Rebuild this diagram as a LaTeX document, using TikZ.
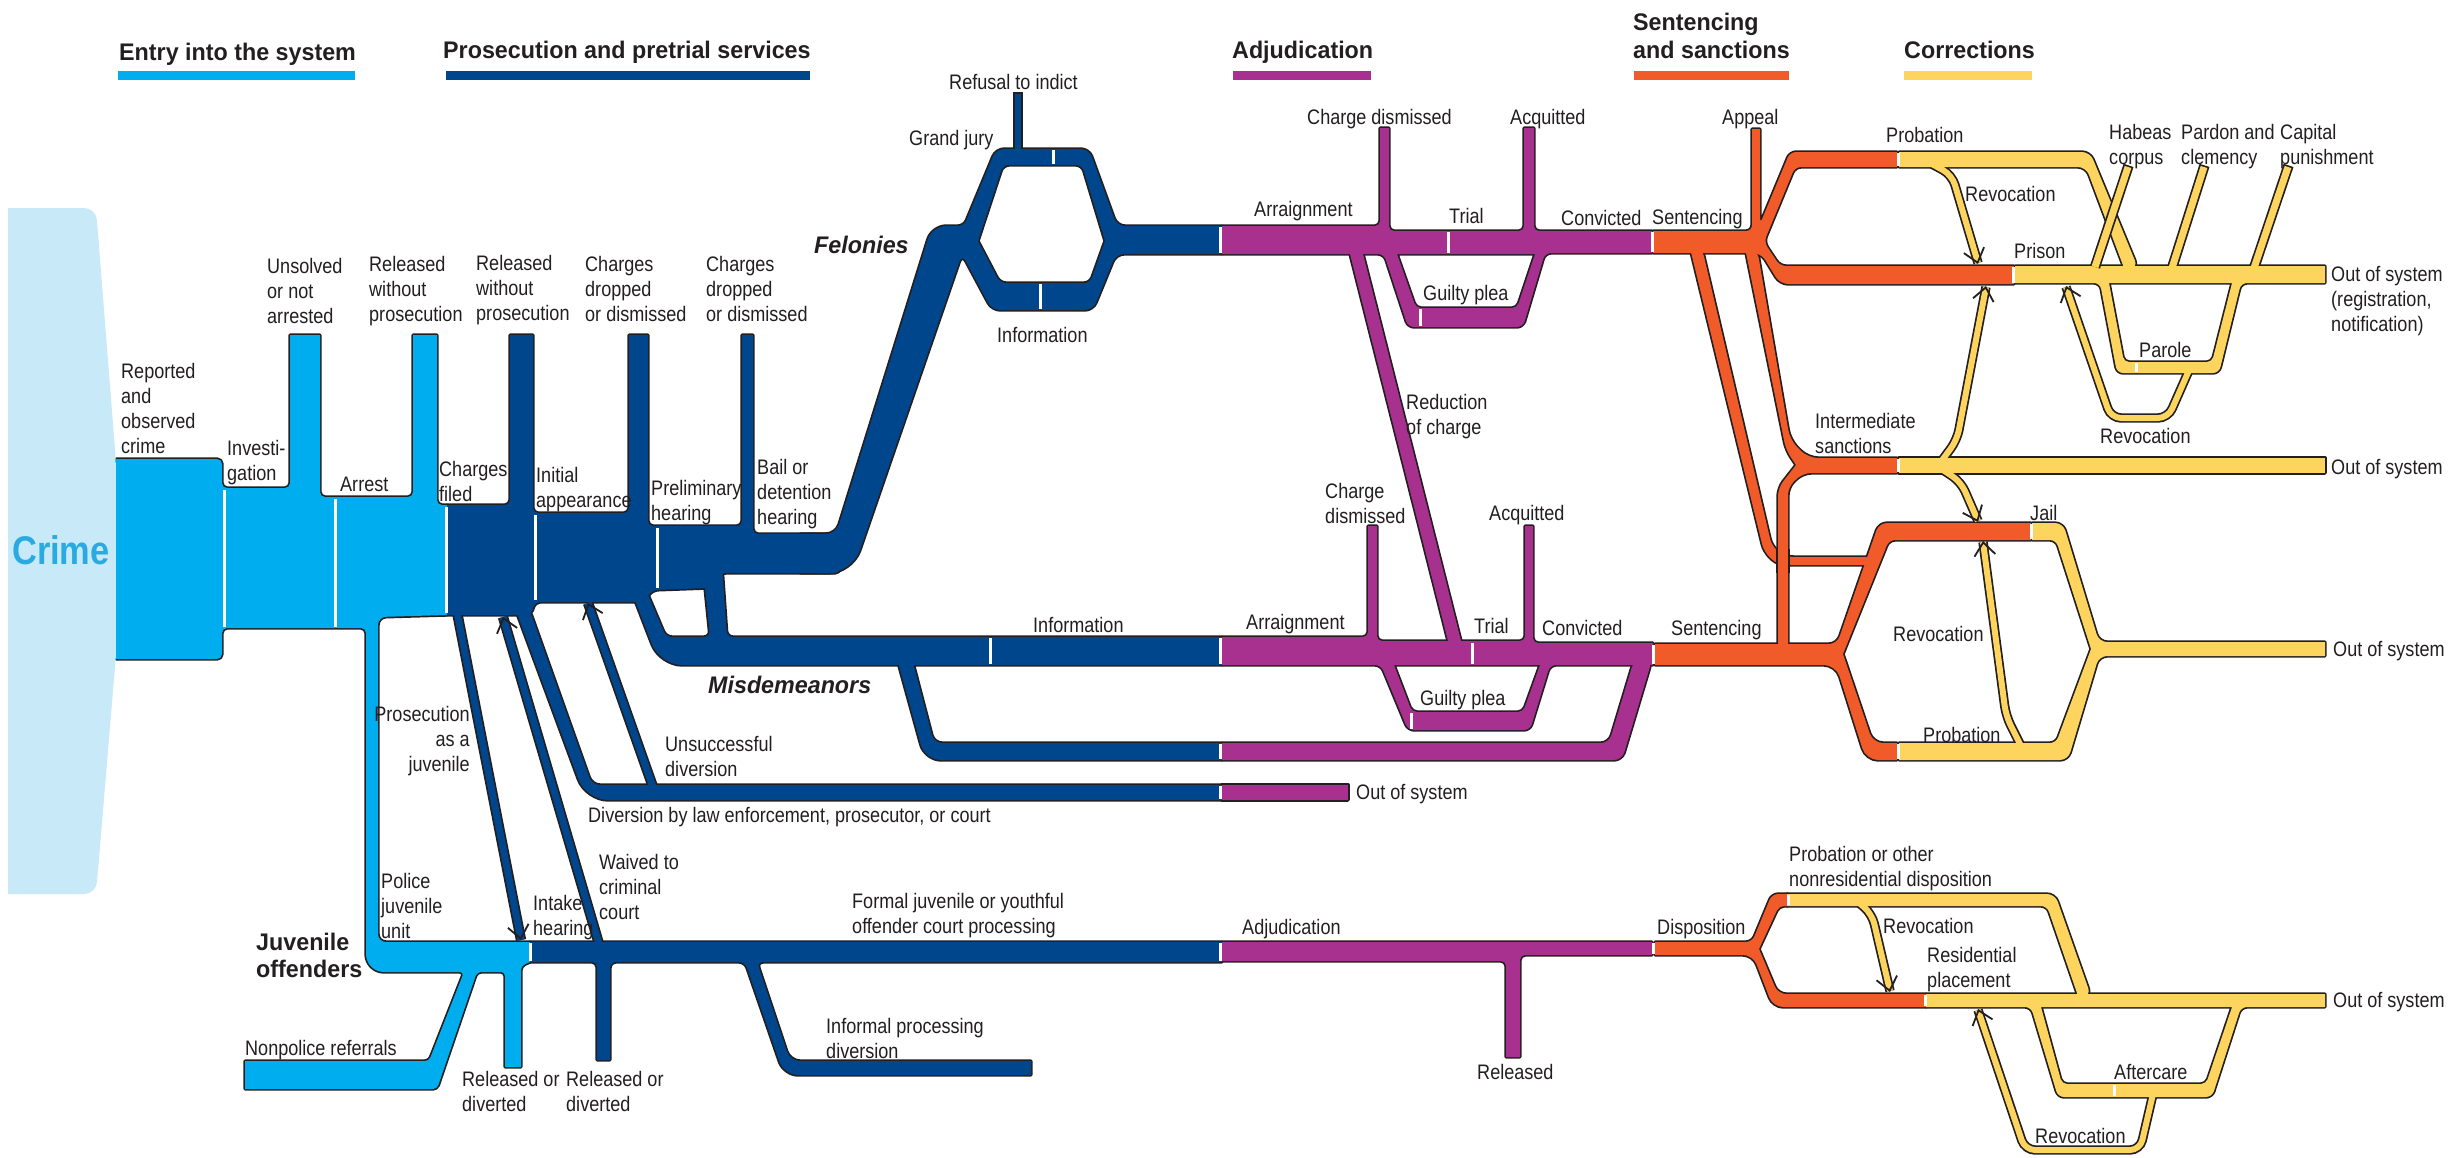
\documentclass[tikz,border=0pt]{standalone}
\usepackage{fontspec}
\setmainfont{Liberation Sans}[FakeStretch=0.86]
\newfontfamily\hfont{Liberation Sans}[FakeStretch=0.97]
\newfontfamily\cfont{Liberation Sans}[FakeStretch=0.86]
\usetikzlibrary{arrows.meta,calc}
\definecolor{crimebg}{HTML}{C8E9F8}
\definecolor{cyanE}{HTML}{00AEEF}
\definecolor{blueP}{HTML}{00468C}
\definecolor{purA}{HTML}{A8308F}
\definecolor{oraS}{HTML}{F15A29}
\definecolor{yelC}{HTML}{FDD55E}
\definecolor{crimetxt}{HTML}{29ABE2}
\definecolor{outl}{HTML}{231F20}
\definecolor{txt}{HTML}{231F20}
\begin{document}
\begin{tikzpicture}[x=1pt,y=-1pt,
  casing/.style={draw=outl, fill=outl, line width=3.4pt, line join=round},
  lbl/.style={font=\fontsize{21}{25}\selectfont, text=txt, inner sep=0pt, align=left, anchor=north west},
  hdr/.style={font=\hfont\bfseries\fontsize{24}{28}\selectfont, text=txt, inner sep=0pt, align=left, anchor=north west},
  wsep/.style={draw=white, line width=3pt},
  ahead/.style={draw=outl, line width=1.8pt, -{Straight Barb[length=13pt,width=21pt]}},
  tcasB/.style={draw=outl, line width=10.4pt},
  tfillB/.style={draw=blueP, line width=7pt},
  tcasY/.style={draw=outl, line width=9.4pt, rounded corners=10pt},
  tfillY/.style={draw=yelC, line width=6pt, rounded corners=10pt}]
\useasboundingbox (0,0) rectangle (2458,1157);
\fill[white] (0,0) rectangle (2458,1157);
% ---------- shapes ----------
\def\zzCrime{(8,208) [rounded corners=12pt] -- (96,208) -- (116,462) [sharp corners] -- (116,655) [rounded corners=12pt] -- (96,894) [sharp corners] -- (8,894) -- cycle}
\def\zzCyan{(116,459) [rounded corners=5pt] -- (222,459) -- (222,488) -- (290,488) [sharp corners] -- (290,335) -- (320,335) [rounded corners=5pt] -- (320,497) -- (413,497) [sharp corners] -- (413,335) -- (437,335) [rounded corners=5pt] -- (437,505) [sharp corners] -- (447,505) -- (447,615) [rounded corners=8pt] -- (378,617) -- (378,942) [sharp corners] -- (530,942) -- (530,962) [rounded corners=4pt] -- (521,966) [sharp corners] -- (521,1067) -- (505,1067) [rounded corners=4pt] -- (505,972) -- (477,972) -- (437,1089) [sharp corners] -- (245,1089) -- (245,1061) [rounded corners=4pt] -- (429,1061) -- (464,972) [rounded corners=18pt] -- (366,972) [rounded corners=5pt] -- (366,628) -- (222,628) -- (222,659) [sharp corners] -- (116,659) -- cycle}
\def\zzBlue{(447,505) [rounded corners=5pt] -- (510,505) [sharp corners] -- (510,335) -- (533,335) [rounded corners=5pt] -- (533,513) -- (629,513) [sharp corners] -- (629,335) -- (648,335) [rounded corners=5pt] -- (648,526) -- (742,526) [sharp corners] -- (742,335) -- (753,335) [rounded corners=5pt] -- (753,534) -- (840,534) -- (840,573) -- (721,573) -- (708,588) -- (653,590) -- (643,602) -- (535,602) -- (531,615) [sharp corners] -- (447,615) -- cycle}
\def\zzFel{(800,534) [rounded corners=10pt] -- (836,534) [rounded corners=14pt] -- (932,226) [rounded corners=6pt] -- (964,226) [rounded corners=8pt] -- (996,149) -- (1089,149) -- (1117,226) [sharp corners] -- (1222,226) -- (1222,254) [rounded corners=8pt] -- (1116,254) -- (1093,310) -- (992,310) -- (962,254) [rounded corners=24pt] -- (852,573) [sharp corners] -- (800,573) -- cycle
 (978,241) [rounded corners=6pt] -- (1003,165) -- (1082,165) [sharp corners] -- (1105,241) [rounded corners=6pt] -- (1090,283) -- (1000,283) [sharp corners] -- cycle}
\def\zzMis{(631,590) [rounded corners=6pt] -- (646,590) -- (666,637) -- (710,637) -- (703,568) -- (722,566) -- (727,637) [sharp corners] -- (1222,637) -- (1222,665) [rounded corners=22pt] -- (660,665) [sharp corners] -- cycle}
\def\zzMisLow{(896,655) [rounded corners=8pt] -- (911,655) -- (934,743) [sharp corners] -- (1222,743) -- (1222,760) [rounded corners=16pt] -- (925,760) [sharp corners] -- cycle}
\def\zzDiv{(515,608) [rounded corners=8pt] -- (529,608) -- (592,785) [sharp corners] -- (1222,785) -- (1222,800) [rounded corners=22pt] -- (586,800) [sharp corners] -- cycle}
\def\zzJB{(530,942) -- (1222,942) -- (1222,962) [rounded corners=6pt] -- (757,962) [rounded corners=10pt] -- (790,1061) [sharp corners] -- (1031,1061) -- (1031,1075) [rounded corners=14pt] -- (784,1075) [rounded corners=6pt] -- (745,962) -- (610,962) [sharp corners] -- (610,1060) -- (597,1060) [rounded corners=5pt] -- (597,962) [sharp corners] -- (530,962) -- cycle}
\def\zzPF{(1222,226) [rounded corners=5pt] -- (1380,226) [sharp corners] -- (1380,128) -- (1389,128) [rounded corners=5pt] -- (1389,231) -- (1524,231) [sharp corners] -- (1524,128) -- (1534,128) [rounded corners=5pt] -- (1534,231) [sharp corners] -- (1652,231) -- (1652,253) [rounded corners=6pt] -- (1545,253) -- (1523,327) -- (1408,327) -- (1384,254) [sharp corners] -- (1222,254) -- cycle
 (1397,254) [rounded corners=5pt] -- (1416,308) -- (1517,308) [sharp corners] -- (1535,254) -- cycle}
\def\zzRed{(1349,250) -- (1362,250) -- (1461,641) -- (1448,641) -- cycle}
\def\zzPM{(1222,637) [rounded corners=5pt] -- (1368,637) [sharp corners] -- (1368,526) -- (1377,526) [rounded corners=5pt] -- (1377,641) -- (1525,641) [sharp corners] -- (1525,526) -- (1533,526) [rounded corners=5pt] -- (1533,643) [sharp corners] -- (1653,643) -- (1653,665) [rounded corners=6pt] -- (1550,665) -- (1530,730) -- (1408,730) -- (1381,665) [sharp corners] -- (1222,665) -- cycle
 (1394,665) [rounded corners=5pt] -- (1412,712) -- (1523,712) [sharp corners] -- (1540,665) -- cycle}
\def\zzPML{(1222,743) [rounded corners=8pt] -- (1609,743) -- (1634,660) -- (1652,660) -- (1622,760) [sharp corners] -- (1222,760) -- cycle}
\def\zzPD{(1222,785) -- (1348,785) -- (1348,800) -- (1222,800) -- cycle}
\def\zzPJ{(1222,942) -- (1652,942) -- (1652,955) [rounded corners=5pt] -- (1520,955) [sharp corners] -- (1520,1057) -- (1506,1057) [rounded corners=5pt] -- (1506,961) [sharp corners] -- (1222,961) -- cycle}
\def\zzOF{(1653,231) [rounded corners=6pt] -- (1752,231) [sharp corners] -- (1752,129) -- (1760,129) [rounded corners=6pt] -- (1760,224) -- (1790,152) [sharp corners] -- (1897,152) -- (1897,167) [rounded corners=6pt] -- (1795,167) -- (1764,242) -- (1780,266) [sharp corners] -- (2014,266) -- (2014,284) [rounded corners=8pt] -- (1780,284) -- (1761,253) [sharp corners] -- (1653,253) -- cycle}
\def\zzOI{(1745,248) [rounded corners=10pt] -- (1757,248) -- (1790,440) -- (1808,458) [sharp corners] -- (1897,458) -- (1897,473) [rounded corners=8pt] -- (1803,473) -- (1788,487) [sharp corners] -- (1788,648) -- (1778,648) [rounded corners=8pt] -- (1778,488) [sharp corners] -- (1796,465) [rounded corners=8pt] -- (1786,450) [sharp corners] -- cycle}
\def\zzOJ{(1690,248) [rounded corners=8pt] -- (1702,248) -- (1772,547) -- (1786,557) [sharp corners] -- (1876,557) -- (1873,565) [rounded corners=8pt] -- (1778,565) -- (1764,552) [sharp corners] -- cycle}
\def\zzOM{(1655,644) [rounded corners=8pt] -- (1837,644) -- (1879,523) [sharp corners] -- (2031,523) -- (2031,540) [rounded corners=6pt] -- (1889,540) [sharp corners] -- (1843,654) [rounded corners=10pt] -- (1873,743) [sharp corners] -- (1897,743) -- (1897,760) [rounded corners=12pt] -- (1866,760) -- (1836,665) [sharp corners] -- (1655,665) -- cycle}
\def\zzOJuv{(1655,942) [rounded corners=6pt] -- (1752,942) -- (1772,894) [sharp corners] -- (1788,894) -- (1788,906) [rounded corners=5pt] -- (1779,906) [sharp corners] -- (1759,949) [rounded corners=8pt] -- (1778,994) [sharp corners] -- (1926,994) -- (1926,1007) [rounded corners=10pt] -- (1773,1007) -- (1753,955) [sharp corners] -- (1655,955) -- cycle}
\def\zzYP{(1899,152) [rounded corners=8pt] -- (2090,152) -- (2138,268) [sharp corners] -- (2124,268) [rounded corners=8pt] -- (2086,167) [sharp corners] -- (1899,167) -- cycle}
\def\zzYPr{(2015,266) -- (2325,266) -- (2325,283) [rounded corners=6pt] -- (2241,283) -- (2219,373) -- (2117,373) -- (2100,283) [sharp corners] -- (2015,283) -- cycle
 (2109,283) [rounded corners=5pt] -- (2124,362) -- (2212,362) [sharp corners] -- (2232,283) -- cycle}
\def\zzYI{(1899,458) -- (2325,458) -- (2325,473) -- (1899,473) -- cycle}
\def\zzYM{(2032,523) [rounded corners=8pt] -- (2063,523) -- (2099,642) [sharp corners] -- (2325,642) -- (2325,656) [rounded corners=8pt] -- (2099,656) -- (2068,760) [sharp corners] -- (1899,760) -- (1899,743) [rounded corners=6pt] -- (2056,743) [sharp corners] -- (2091,649) [rounded corners=6pt] -- (2056,540) [sharp corners] -- (2032,540) -- cycle}
\def\zzYJu{(1787,894) [rounded corners=8pt] -- (2055,894) -- (2091,996) [sharp corners] -- (2078,996) [rounded corners=6pt] -- (2047,906) [sharp corners] -- (1787,906) -- cycle}
\def\zzYJl{(1926,994) -- (2325,994) -- (2325,1007) [rounded corners=6pt] -- (2241,1007) -- (2212,1097) -- (2058,1097) -- (2031,1007) [sharp corners] -- (1926,1007) -- cycle
 (2041,1007) [rounded corners=5pt] -- (2062,1084) -- (2206,1084) [sharp corners] -- (2232,1007) -- cycle}
% thin lines
\def\zzRef{(1018,152) -- (1018,94)}
\def\zzAJ{(457,612) -- (521,940)}
\def\zzAW{(599,944) -- (503,617)}
\def\zzAU{(653,787) -- (588,603)}
\def\zzRP{(1930,163) -- (1952,175) -- (1978,263)}
\def\zzRIa{(1940,463) -- (1957,440) -- (1986,287)}
\def\zzRIb{(1940,468) -- (1961,482) -- (1978,521)}
\def\zzRPar{(2190,368) -- (2168,418) -- (2111,418) -- (2066,287)}
\def\zzRM{(2022,748) -- (2006,716) -- (1983,542)}
\def\zzRJa{(1858,902) -- (1872,914) -- (1890,991)}
\def\zzRJb{(2153,1094) -- (2140,1150) -- (2025,1150) -- (1978,1010)}
\def\zzPar{(2172,268) -- (2204,167)}
\def\zzCap{(2254,268) -- (2288,167)}
\def\zzHab{(2095,267) -- (2128,167)}
% ---------- pass 1: casings ----------
\path[casing] \zzCyan;
\path[casing] \zzBlue;
\path[casing, even odd rule] \zzFel;
\path[casing] \zzMis;
\path[casing] \zzMisLow;
\path[casing] \zzDiv;
\path[casing] \zzJB;
\path[casing, even odd rule] \zzPF;
\path[casing] \zzRed;
\path[casing, even odd rule] \zzPM;
\path[casing] \zzPML;
\path[casing] \zzPD;
\path[casing] \zzPJ;
\path[casing] \zzOF;
\path[casing] \zzOI;
\path[casing] \zzOJ;
\path[casing] \zzOM;
\path[casing] \zzOJuv;
\path[casing] \zzYP;
\path[casing, even odd rule] \zzYPr;
\path[casing] \zzYI;
\path[casing] \zzYM;
\path[casing] \zzYJu;
\path[casing, even odd rule] \zzYJl;
\draw[outl, line width=9.4pt, shorten >=-1.7pt] \zzRef;
\draw[tcasB] \zzAJ; \draw[tcasB] \zzAW; \draw[tcasB] \zzAU;
\draw[tcasY] \zzRP; \draw[tcasY] \zzRIa; \draw[tcasY] \zzRIb; \draw[tcasY] \zzRPar;
\draw[tcasY] \zzRM; \draw[tcasY] \zzRJa; \draw[tcasY] \zzRJb;
\draw[outl, line width=10.4pt, shorten >=-1.7pt] \zzPar;
\draw[outl, line width=10.4pt, shorten >=-1.7pt] \zzCap;
% ---------- crime box ----------
\fill[crimebg] \zzCrime;
% ---------- pass 2: fills ----------
\fill[cyanE] \zzCyan;
\fill[blueP] \zzBlue;
\fill[blueP, even odd rule] \zzFel;
\fill[blueP] \zzMis;
\fill[blueP] \zzMisLow;
\fill[blueP] \zzDiv;
\fill[blueP] \zzJB;
\fill[purA, even odd rule] \zzPF;
\fill[purA] \zzRed;
\fill[purA, even odd rule] \zzPM;
\fill[purA] \zzPML;
\fill[purA] \zzPD;
\fill[purA] \zzPJ;
\fill[oraS] \zzOF;
\fill[oraS] \zzOI;
\fill[oraS] \zzOJ;
\fill[oraS] \zzOM;
\fill[oraS] \zzOJuv;
\fill[yelC] \zzYP;
\fill[yelC, even odd rule] \zzYPr;
\fill[yelC] \zzYI;
\fill[yelC] \zzYM;
\fill[yelC] \zzYJu;
\fill[yelC, even odd rule] \zzYJl;
\draw[blueP, line width=6pt] \zzRef;
\draw[tfillB] \zzAJ; \draw[tfillB] \zzAW; \draw[tfillB] \zzAU;
\draw[tfillY] \zzRP; \draw[tfillY] \zzRIa; \draw[tfillY] \zzRIb; \draw[tfillY] \zzRPar;
\draw[tfillY] \zzRM; \draw[tfillY] \zzRJa; \draw[tfillY] \zzRJb;
\draw[yelC, line width=7pt] \zzPar;
\draw[yelC, line width=7pt] \zzCap;
% ---------- crossings ----------
\fill[oraS] (1778,549) rectangle (1788,573);
\draw[outl, line width=1.7pt] (1777.15,549) -- (1777.15,573) (1788.85,549) -- (1788.85,573);
\draw[outl, line width=10.4pt, shorten >=-1.7pt] \zzHab;
\draw[yelC, line width=7pt] \zzHab;
% ---------- separators ----------
\foreach \sx/\sa/\sb in {224/490/627, 335/499/627, 446/507/613, 535/515/600, 657/528/588,
  1053/150/164, 1040/284/309, 1220/227/253, 990/638/664, 1220/638/664, 1220/744/759,
  1220/786/799, 1220/943/961, 530/943/961, 1448/232/253, 1420/309/326, 1472/643/664,
  1411/713/729, 1652/232/252, 1653/645/664, 1653/943/954, 1898/153/166, 2013/267/283,
  1898/459/472, 2031/524/539, 1898/744/759, 1788/895/905, 1925/995/1006, 2136/363/372, 2114/1085/1096}
  {\draw[wsep] (\sx,\sa) -- (\sx,\sb);}
% ---------- arrowheads ----------
\draw[ahead] ($(521,940)!3pt!(457,612)$) -- (521,940);
\draw[ahead] ($(503,617)!3pt!(599,944)$) -- (503,617);
\draw[ahead] ($(588,603)!3pt!(653,787)$) -- (588,603);
\draw[ahead] ($(1978,264)!3pt!(1952,175)$) -- (1978,264);
\draw[ahead] ($(1986,286)!3pt!(1957,440)$) -- (1986,286);
\draw[ahead] ($(1978,522)!3pt!(1961,482)$) -- (1978,522);
\draw[ahead] ($(2066,286)!3pt!(2111,418)$) -- (2066,286);
\draw[ahead] ($(1983,541)!3pt!(2006,716)$) -- (1983,541);
\draw[ahead] ($(1890,992)!3pt!(1872,914)$) -- (1890,992);
\draw[ahead] ($(1978,1009)!3pt!(2025,1150)$) -- (1978,1009);
% ---------- header bars ----------
\fill[cyanE] (118,71) rectangle (355,80);
\fill[blueP] (446,71) rectangle (810,80);
\fill[purA] (1233,71) rectangle (1371,80);
\fill[oraS] (1634,71) rectangle (1789,80);
\fill[yelC] (1904,71) rectangle (2032,80);
\node[hdr] (h1) at (119,43) {Entry into the system};
\node[hdr] (h2) at (443,41) {Prosecution and pretrial services};
\node[hdr] (h3) at (1232,41) {Adjudication};
\node[hdr] (h4) at (1633,13) {Sentencing\\and sanctions};
\node[hdr] (h5) at (1904,41) {Corrections};
% ---------- big labels ----------
\node[anchor=west, inner sep=0pt, text=crimetxt, font=\cfont\bfseries\fontsize{40}{44}\selectfont] (crime) at (12,550) {Crime};
\node[hdr, font=\hfont\bfseries\itshape\fontsize{24}{28}\selectfont] (fel) at (814,236) {Felonies};
\node[hdr, font=\hfont\bfseries\itshape\fontsize{24}{28}\selectfont] (mis) at (708,676) {Misdemeanors};
\node[hdr, font=\hfont\bfseries\fontsize{24}{27}\selectfont] (juv) at (256,933) {Juvenile\\offenders};
% ---------- labels ----------
\node[lbl] (n1) at (121,363) {Reported\\and\\observed\\crime};
\node[lbl] (n2) at (227,440) {Investi-\\gation};
\node[lbl] (n3) at (267,258) {Unsolved\\or not\\arrested};
\node[lbl] (n4) at (340,477) {Arrest};
\node[lbl] (n5) at (369,256) {Released\\without\\prosecution};
\node[lbl] (n6) at (439,461) {Charges\\filed};
\node[lbl] (n7) at (476,255) {Released\\without\\prosecution};
\node[lbl] (n8) at (536,467) {Initial\\appearance};
\node[lbl] (n9) at (585,256) {Charges\\dropped\\or dismissed};
\node[lbl] (n10) at (651,480) {Preliminary\\hearing};
\node[lbl] (n11) at (706,256) {Charges\\dropped\\or dismissed};
\node[lbl] (n12) at (757,459) {Bail or\\detention\\hearing};
\node[lbl] (n13) at (909,130) {Grand jury};
\node[lbl] (n14) at (949,74) {Refusal to indict};
\node[lbl] (n15) at (997,327) {Information};
\node[lbl] (n16) at (1033,617) {Information};
\node[lbl, align=right, anchor=north east] (n17) at (470,706) {Prosecution\\as a\\juvenile};
\node[lbl] (n18) at (665,736) {Unsuccessful\\diversion};
\node[lbl] (n19) at (588,807) {Diversion by law enforcement, prosecutor, or court};
\node[lbl] (n20) at (1356,784) {Out of system};
\node[lbl] (n21) at (381,873) {Police\\juvenile\\unit};
\node[lbl] (n22) at (533,895) {Intake\\hearing};
\node[lbl] (n23) at (599,854) {Waived to\\criminal\\court};
\node[lbl] (n24) at (245,1040) {Nonpolice referrals};
\node[lbl] (n25) at (462,1071) {Released or\\diverted};
\node[lbl] (n26) at (566,1071) {Released or\\diverted};
\node[lbl] (n27) at (852,893) {Formal juvenile or youthful\\offender court processing};
\node[lbl] (n28) at (826,1018) {Informal processing\\diversion};
\node[lbl] (n29) at (1242,919) {Adjudication};
\node[lbl] (n30) at (1477,1064) {Released};
\node[lbl] (n31) at (1254,201) {Arraignment};
\node[lbl] (n32) at (1307,109) {Charge dismissed};
\node[lbl] (n33) at (1510,109) {Acquitted};
\node[lbl] (n34) at (1449,208) {Trial};
\node[lbl] (n35) at (1561,210) {Convicted};
\node[lbl] (n36) at (1423,285) {Guilty plea};
\node[lbl] (n37) at (1406,394) {Reduction\\of charge};
\node[lbl] (n38) at (1325,483) {Charge\\dismissed};
\node[lbl] (n39) at (1489,505) {Acquitted};
\node[lbl] (n40) at (1246,614) {Arraignment};
\node[lbl] (n41) at (1474,618) {Trial};
\node[lbl] (n42) at (1542,620) {Convicted};
\node[lbl] (n43) at (1420,690) {Guilty plea};
\node[lbl] (n44) at (1652,209) {Sentencing};
\node[lbl] (n45) at (1722,109) {Appeal};
\node[lbl] (n46) at (1886,127) {Probation};
\node[lbl] (n47) at (1965,186) {Revocation};
\node[lbl] (n48) at (2109,124) {Habeas\\corpus};
\node[lbl] (n49) at (2181,124) {Pardon and\\clemency};
\node[lbl] (n50) at (2280,124) {Capital\\punishment};
\node[lbl] (n51) at (2014,243) {Prison};
\node[lbl] (n52) at (2331,266) {Out of system\\(registration,\\notification)};
\node[lbl] (n53) at (2139,342) {Parole};
\node[lbl] (n54) at (2100,428) {Revocation};
\node[lbl] (n55) at (1815,413) {Intermediate\\sanctions};
\node[lbl] (n56) at (2331,459) {Out of system};
\node[lbl] (n57) at (2030,505) {Jail};
\node[lbl] (n58) at (1671,620) {Sentencing};
\node[lbl] (n59) at (1893,626) {Revocation};
\node[lbl] (n60) at (2333,641) {Out of system};
\node[lbl] (n61) at (1923,727) {Probation};
\node[lbl] (n62) at (1657,919) {Disposition};
\node[lbl] (n63) at (1789,846) {Probation or other\\nonresidential disposition};
\node[lbl] (n64) at (1883,918) {Revocation};
\node[lbl] (n65) at (1927,947) {Residential\\placement};
\node[lbl] (n66) at (2333,992) {Out of system};
\node[lbl] (n67) at (2114,1064) {Aftercare};
\node[lbl] (n68) at (2035,1128) {Revocation};
\end{tikzpicture}
\end{document}
